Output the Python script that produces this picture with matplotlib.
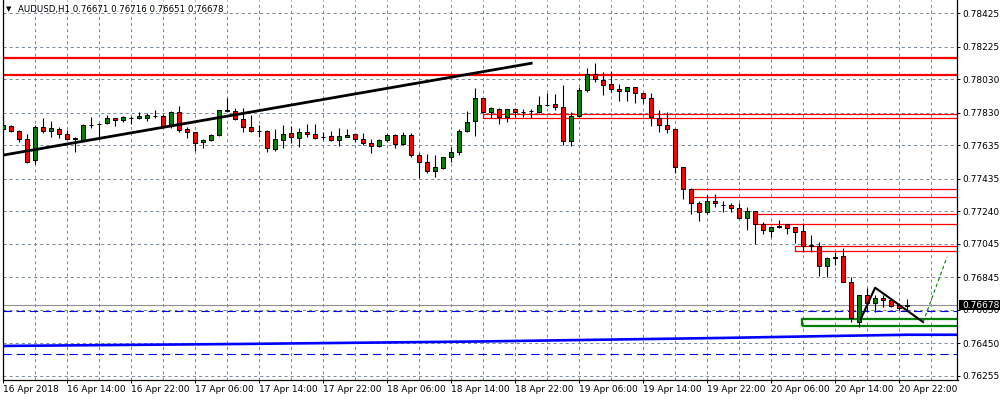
import matplotlib
matplotlib.use("Agg")
import matplotlib.pyplot as plt
from matplotlib.patches import Rectangle
import numpy as np

plt.rcParams['font.family'] = ['DejaVu Sans']
plt.rcParams['lines.scale_dashes'] = False

# AUDUSD H1 candles, 16 Apr 06:00 .. 20 Apr 23:00
opens = [0.77730, 0.77748, 0.77720, 0.77670, 0.77545, 0.77742, 0.77722, 0.77732, 0.77700, 0.77674,
         0.77669, 0.77754, 0.77762, 0.77766, 0.77796, 0.77784, 0.77801, 0.77796, 0.77796, 0.77813,
         0.77808, 0.77752, 0.77832, 0.77732, 0.77712, 0.77653, 0.77664, 0.77696, 0.77844, 0.77840,
         0.77790, 0.77747, 0.77720, 0.77722, 0.77611, 0.77666, 0.77706, 0.77676, 0.77712, 0.77700,
         0.77687, 0.77688, 0.77664, 0.77686, 0.77700, 0.77670, 0.77647, 0.77629, 0.77664, 0.77694,
         0.77641, 0.77694, 0.77578, 0.77533, 0.77482, 0.77500, 0.77563, 0.77593, 0.77718, 0.77778,
         0.77916, 0.77832, 0.77850, 0.77802, 0.77850, 0.77832, 0.77838, 0.77832, 0.77874, 0.77880,
         0.77867, 0.77662, 0.77812, 0.77964, 0.78060, 0.78026, 0.78000, 0.77972, 0.77958, 0.77982,
         0.77946, 0.77921, 0.77796, 0.77756, 0.77730, 0.77503, 0.77371, 0.77287, 0.77237, 0.77303,
         0.77280, 0.77275, 0.77261, 0.77197, 0.77243, 0.77166, 0.77123, 0.77153, 0.77162, 0.77144,
         0.77123, 0.77033, 0.77033, 0.76914, 0.76961, 0.76969, 0.76814, 0.76578, 0.76736, 0.76692,
         0.76718, 0.76708, 0.76678, 0.76671]
highs = [0.77786, 0.77754, 0.77728, 0.77700, 0.77756, 0.77800, 0.77780, 0.77746, 0.77724, 0.77687,
         0.77760, 0.77804, 0.77768, 0.77816, 0.77800, 0.77812, 0.77812, 0.77832, 0.77826, 0.77846,
         0.77824, 0.77840, 0.77870, 0.77744, 0.77716, 0.77672, 0.77702, 0.77844, 0.77916, 0.77856,
         0.77856, 0.77816, 0.77756, 0.77726, 0.77732, 0.77756, 0.77750, 0.77736, 0.77760, 0.77760,
         0.77716, 0.77720, 0.77736, 0.77730, 0.77702, 0.77706, 0.77670, 0.77670, 0.77702, 0.77702,
         0.77712, 0.77706, 0.77587, 0.77581, 0.77575, 0.77566, 0.77623, 0.77730, 0.77842, 0.77978,
         0.77921, 0.77864, 0.77860, 0.77850, 0.77856, 0.77852, 0.77852, 0.77930, 0.77950, 0.77942,
         0.77996, 0.77836, 0.77982, 0.78096, 0.78127, 0.78072, 0.78079, 0.78002, 0.77982, 0.77985,
         0.77950, 0.77946, 0.77846, 0.77832, 0.77736, 0.77505, 0.77377, 0.77303, 0.77337, 0.77341,
         0.77303, 0.77287, 0.77287, 0.77263, 0.77244, 0.77177, 0.77148, 0.77187, 0.77163, 0.77147,
         0.77167, 0.77097, 0.77055, 0.76964, 0.76997, 0.77018, 0.76844, 0.76736, 0.76778, 0.76738,
         0.76738, 0.76718, 0.76688, 0.76716]
lows = [0.77716, 0.77712, 0.77656, 0.77529, 0.77523, 0.77706, 0.77684, 0.77680, 0.77672, 0.77596,
        0.77668, 0.77736, 0.77684, 0.77762, 0.77752, 0.77776, 0.77764, 0.77795, 0.77780, 0.77800,
        0.77738, 0.77736, 0.77716, 0.77680, 0.77602, 0.77620, 0.77660, 0.77692, 0.77832, 0.77786,
        0.77716, 0.77717, 0.77686, 0.77596, 0.77602, 0.77617, 0.77647, 0.77623, 0.77682, 0.77674,
        0.77666, 0.77660, 0.77630, 0.77682, 0.77656, 0.77635, 0.77590, 0.77624, 0.77656, 0.77617,
        0.77635, 0.77563, 0.77437, 0.77467, 0.77447, 0.77494, 0.77536, 0.77576, 0.77714, 0.77692,
        0.77828, 0.77800, 0.77762, 0.77776, 0.77806, 0.77806, 0.77800, 0.77831, 0.77870, 0.77848,
        0.77636, 0.77632, 0.77806, 0.77956, 0.78012, 0.77936, 0.77952, 0.77898, 0.77902, 0.77890,
        0.77890, 0.77752, 0.77716, 0.77710, 0.77470, 0.77313, 0.77226, 0.77183, 0.77221, 0.77267,
        0.77233, 0.77233, 0.77196, 0.77127, 0.77044, 0.77103, 0.77084, 0.77141, 0.77103, 0.77048,
        0.76997, 0.76997, 0.76852, 0.76844, 0.76918, 0.76813, 0.76575, 0.76545, 0.76644, 0.76638,
        0.76668, 0.76668, 0.76648, 0.76651]
closes = [0.77756, 0.77720, 0.77670, 0.77536, 0.77744, 0.77722, 0.77738, 0.77700, 0.77674, 0.77676,
          0.77754, 0.77758, 0.77764, 0.77796, 0.77784, 0.77804, 0.77800, 0.77810, 0.77814, 0.77812,
          0.77742, 0.77832, 0.77724, 0.77712, 0.77647, 0.77664, 0.77696, 0.77844, 0.77841, 0.77790,
          0.77746, 0.77718, 0.77722, 0.77617, 0.77670, 0.77702, 0.77682, 0.77712, 0.77702, 0.77680,
          0.77686, 0.77664, 0.77688, 0.77694, 0.77670, 0.77647, 0.77629, 0.77664, 0.77694, 0.77641,
          0.77694, 0.77578, 0.77533, 0.77479, 0.77503, 0.77563, 0.77593, 0.77720, 0.77774, 0.77916,
          0.77832, 0.77856, 0.77802, 0.77850, 0.77832, 0.77834, 0.77840, 0.77874, 0.77876, 0.77866,
          0.77662, 0.77808, 0.77966, 0.78060, 0.78030, 0.77997, 0.77970, 0.77958, 0.77982, 0.77946,
          0.77921, 0.77802, 0.77759, 0.77730, 0.77503, 0.77371, 0.77287, 0.77237, 0.77303, 0.77287,
          0.77278, 0.77261, 0.77197, 0.77243, 0.77163, 0.77126, 0.77147, 0.77147, 0.77141, 0.77117,
          0.77033, 0.77035, 0.76914, 0.76958, 0.76963, 0.76814, 0.76599, 0.76736, 0.76692, 0.76718,
          0.76708, 0.76674, 0.76662, 0.76678]

price_ticks = [0.78425, 0.78225, 0.78030, 0.77830, 0.77635, 0.77435, 0.77240,
               0.77045, 0.76845, 0.76650, 0.76450, 0.76255]
time_labels = ["16 Apr 2018", "16 Apr 14:00", "16 Apr 22:00", "17 Apr 06:00", "17 Apr 14:00",
               "17 Apr 22:00", "18 Apr 06:00", "18 Apr 14:00", "18 Apr 22:00", "19 Apr 06:00",
               "19 Apr 14:00", "19 Apr 22:00", "20 Apr 06:00", "20 Apr 14:00", "20 Apr 22:00"]

# drawn objects
resistance = [0.78159, 0.78058]
zones_red = [(60.0, 0.77796, 0.77820), (86.1, 0.77323, 0.77371),
             (94.0, 0.77161, 0.77221), (99.0, 0.77002, 0.77032)]
zone_green = (99.8, 0.76554, 0.76594)
trend_x = [0, 66]
trend_y = [0.77576, 0.78126]
wedge_x = [107.2, 109.0, 115.0]
wedge_y = [0.76594, 0.76782, 0.76576]
proj_x = [115.0, 118.0]
proj_y = [0.76576, 0.76967]
ma_x = [-0.1, 30, 60, 90, 104, 113, 119.3]
ma_y = [0.76433, 0.76445, 0.76460, 0.76481, 0.76493, 0.76500, 0.76500]
dashed_levels = [0.76642, 0.76385]
last_price = 0.76678

fig = plt.figure(figsize=(10, 4), dpi=100)
ax = fig.add_axes([0.0025, 1 - 379.5 / 400, 0.955, 379.5 / 400])
ax.set_xlim(-0.1, 119.3)
ax.set_ylim(0.76232, 0.78505)

grid_col = '#778899'
ax.set_axisbelow(True)
ax.set_xticks(range(0, 120, 8))
ax.set_xticks(range(4, 120, 8), minor=True)
ax.set_xticklabels(time_labels, ha='left', fontsize=6.5)
ax.set_yticks(price_ticks)
ax.set_yticklabels([f"{v:.5f}" for v in price_ticks], fontsize=6.5)
ax.yaxis.tick_right()
ax.grid(True, which='both', axis='x', color=grid_col, lw=0.7, linestyle=(0, (2.2, 2.2)))
ax.grid(True, which='major', axis='y', color=grid_col, lw=0.7, linestyle=(0, (2.2, 2.2)))
ax.tick_params(axis='x', which='major', length=2.5, width=0.7, pad=1.2)
ax.tick_params(axis='x', which='minor', length=0)
ax.tick_params(axis='y', length=2.2, width=0.7, pad=1.5)
for s in ['left', 'bottom', 'right']:
    ax.spines[s].set_color('black')
    ax.spines[s].set_linewidth(0.9)
ax.spines['top'].set_visible(False)

# levels and zones
for lv in resistance:
    ax.axhline(lv, color='#ff0000', lw=1.6, zorder=2)
for x0, lo, hi in zones_red:
    ax.add_patch(Rectangle((x0, lo), 200, hi - lo, fill=False, edgecolor='#ff0000', lw=0.9, zorder=2))
ax.add_patch(Rectangle((zone_green[0], zone_green[1]), 200, zone_green[2] - zone_green[1],
                       fill=False, edgecolor='#008000', lw=1.6, zorder=2))
ax.axhline(last_price, color='#909090', lw=0.8, zorder=2)
for lv in dashed_levels:
    ax.axhline(lv, color='#0000e0', lw=0.8, linestyle=(0, (6, 3.5)), zorder=2)
ax.plot(ma_x, ma_y, color='#0000ff', lw=1.9, zorder=2)

# candles
idx = np.arange(len(opens))
o = np.array(opens)
c = np.array(closes)
h = np.array(highs)
l = np.array(lows)
ax.vlines(idx, l, h, color='black', lw=0.8, zorder=3)
colors = np.where(c > o, '#008000', np.where(c < o, '#ff0000', 'black'))
body_lo = np.minimum(o, c)
body_h = np.maximum(np.abs(c - o), 0.000004)
ax.bar(idx, body_h, width=0.55, bottom=body_lo, color=colors, edgecolor='black', linewidth=0.7, zorder=4)

# trend lines
ax.plot(trend_x, trend_y, color='black', lw=2.0, zorder=5)
ax.plot(wedge_x, wedge_y, color='black', lw=1.5, zorder=5)
ax.plot(proj_x, proj_y, color='#008000', lw=0.8, linestyle=(0, (2.5, 2)), zorder=5)

# header and price tag
fig.text(0.006, 1 - 9.5 / 400, "\u25bc", fontsize=5, va='center', ha='left')
fig.text(0.018, 1 - 9.5 / 400, "AUDUSD,H1 0.76671 0.76716 0.76651 0.76678",
         fontsize=6.2, va='center', ha='left')
fig.add_artist(Rectangle((0.9585, 1 - 309.8 / 400), 0.0415, 9.6 / 400, transform=fig.transFigure,
                         facecolor='black', edgecolor='none', zorder=10))
fig.text(0.9625, 1 - 305.1 / 400, f"{last_price:.5f}", color='white', fontsize=6.5,
         va='center', ha='left', zorder=11)

fig.savefig("out.png", dpi=100)
